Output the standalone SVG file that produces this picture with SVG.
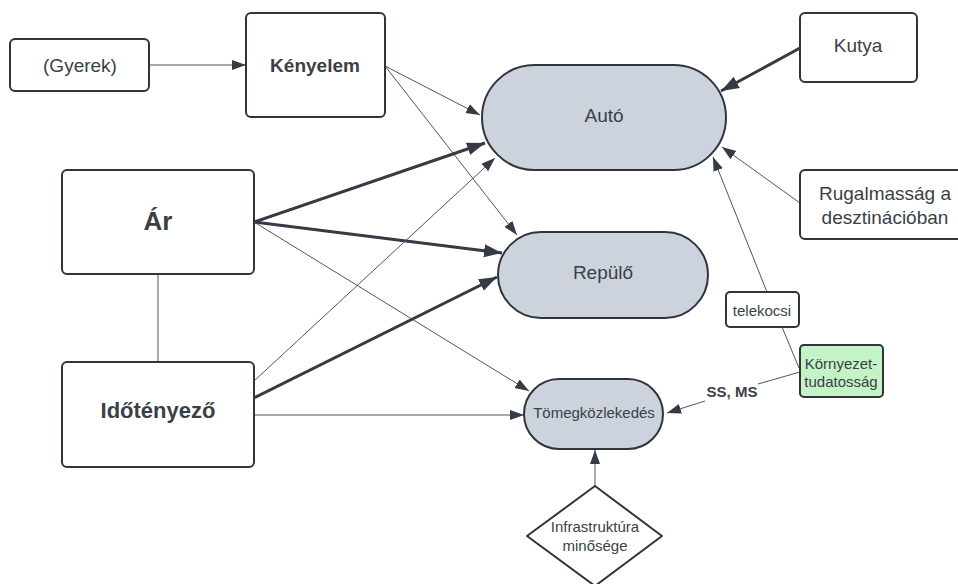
<svg xmlns="http://www.w3.org/2000/svg" width="958" height="584" viewBox="0 0 958 584">
  <defs>
    <style>
      .box { fill: #ffffff; stroke: #2f343d; stroke-width: 2; }
      .mode { fill: #cdd3dd; stroke: #2f343d; stroke-width: 2; }
      .green { fill: #c3f3c6; stroke: #2f343d; stroke-width: 2; }
      .t { font-family: "Liberation Sans", Arial, sans-serif; fill: #3a3f48; text-anchor: middle; dominant-baseline: central; }
      .b { font-weight: bold; }
      .thin { stroke: #50555e; stroke-width: 1; fill: none; }
      .thick { stroke: #353a44; stroke-width: 3; fill: none; }
      .mid { stroke: #3a3f48; stroke-width: 1.5; fill: none; }
    </style>
    <marker id="ah" markerUnits="userSpaceOnUse" markerWidth="14" markerHeight="12" viewBox="0 0 14 12" refX="14" refY="6" orient="auto">
      <path d="M0,1 L14,6 L0,11 Z" fill="#353a44"/>
    </marker>
    <marker id="ahb" markerUnits="userSpaceOnUse" markerWidth="18" markerHeight="14" viewBox="0 0 18 14" refX="18" refY="7" orient="auto">
      <path d="M0,0.5 L18,7 L0,13.5 Z" fill="#353a44"/>
    </marker>
  </defs>

  <!-- connectors -->
  <g id="connectors">
    <line class="thin" x1="149" y1="65" x2="246" y2="65" marker-end="url(#ah)"/>
    <line class="thin" x1="385" y1="66" x2="480" y2="115" marker-end="url(#ah)"/>
    <line class="thin" x1="385" y1="66" x2="517" y2="235" marker-end="url(#ah)"/>
    <line class="thick" x1="254" y1="222" x2="485" y2="143" marker-end="url(#ahb)"/>
    <line class="thick" x1="254" y1="222" x2="502" y2="253" marker-end="url(#ahb)"/>
    <line class="thin" x1="254" y1="222" x2="529" y2="391" marker-end="url(#ah)"/>
    <line class="thin" x1="254" y1="381" x2="495" y2="158" marker-end="url(#ah)"/>
    <line class="thick" x1="254" y1="398" x2="497" y2="277" marker-end="url(#ahb)"/>
    <line class="thin" x1="254" y1="415" x2="524" y2="415" marker-end="url(#ah)"/>
    <line class="thin" x1="158" y1="274" x2="158" y2="362"/>
    <line class="thick" x1="800" y1="48" x2="721" y2="91" marker-end="url(#ahb)"/>
    <line class="thin" x1="800" y1="203" x2="722" y2="147" marker-end="url(#ah)"/>
    <polyline class="thin" points="799,368 782,327"/>
    <line class="thin" x1="767" y1="292" x2="713" y2="157" marker-end="url(#ah)"/>
    <polyline class="thin" points="800,372 758,384"/>
    <line class="thin" x1="705" y1="401" x2="667" y2="413" marker-end="url(#ah)"/>
    <line class="thin" x1="595" y1="486" x2="595" y2="450" marker-end="url(#ah)"/>
    <text class="t b" x="732" y="391" font-size="15">SS, MS</text>
  </g>

  <g id="gyerek">
    <rect class="box" x="10" y="39" width="139" height="52" rx="5"/>
    <text class="t" x="80" y="65" font-size="19">(Gyerek)</text>
  </g>

  <g id="kenyelem">
    <rect class="box" x="246" y="13" width="139" height="104" rx="5"/>
    <text class="t b" x="315" y="65" font-size="19">Kényelem</text>
  </g>

  <g id="ar">
    <rect class="box" x="62" y="170" width="192" height="104" rx="5"/>
    <text class="t b" x="158" y="221" font-size="26">Ár</text>
  </g>

  <g id="idotenyezo">
    <rect class="box" x="62" y="362" width="192" height="105" rx="5"/>
    <text class="t b" x="158" y="410" font-size="22">Időtényező</text>
  </g>

  <g id="auto">
    <rect class="mode" x="482" y="65" width="244" height="105" rx="52.5"/>
    <text class="t" x="604" y="115" font-size="19">Autó</text>
  </g>

  <g id="repulo">
    <rect class="mode" x="498" y="232" width="210" height="86" rx="43"/>
    <text class="t" x="603" y="272" font-size="19">Repülő</text>
  </g>

  <g id="tomegkozlekedes">
    <rect class="mode" x="524" y="379" width="139" height="70" rx="35"/>
    <text class="t" x="594" y="412" font-size="15">Tömegközlekedés</text>
  </g>

  <g id="kutya">
    <rect class="box" x="800" y="13" width="117" height="69" rx="5"/>
    <text class="t" x="858" y="45" font-size="19">Kutya</text>
  </g>

  <g id="rugalmassag">
    <rect class="box" x="800" y="170" width="170" height="69" rx="5"/>
    <text class="t" x="885" y="193" font-size="19">Rugalmasság a</text>
    <text class="t" x="885" y="217" font-size="19">desztinációban</text>
  </g>

  <g id="telekocsi">
    <rect class="box" x="726" y="292" width="73" height="35" rx="4"/>
    <text class="t" x="762" y="310" font-size="15">telekocsi</text>
  </g>

  <g id="kornyezettudatossag">
    <rect class="green" x="800" y="345" width="83" height="52" rx="4"/>
    <text class="t" x="841" y="363" font-size="15">Környezet-</text>
    <text class="t" x="841" y="381" font-size="15">tudatosság</text>
  </g>

  <g id="infrastruktura">
    <polygon class="box" points="595,486 662,536 595,586 527,536" stroke-linejoin="round"/>
    <text class="t" x="595" y="526" font-size="15">Infrastruktúra</text>
    <text class="t" x="595" y="545" font-size="15">minősége</text>
  </g>
</svg>
